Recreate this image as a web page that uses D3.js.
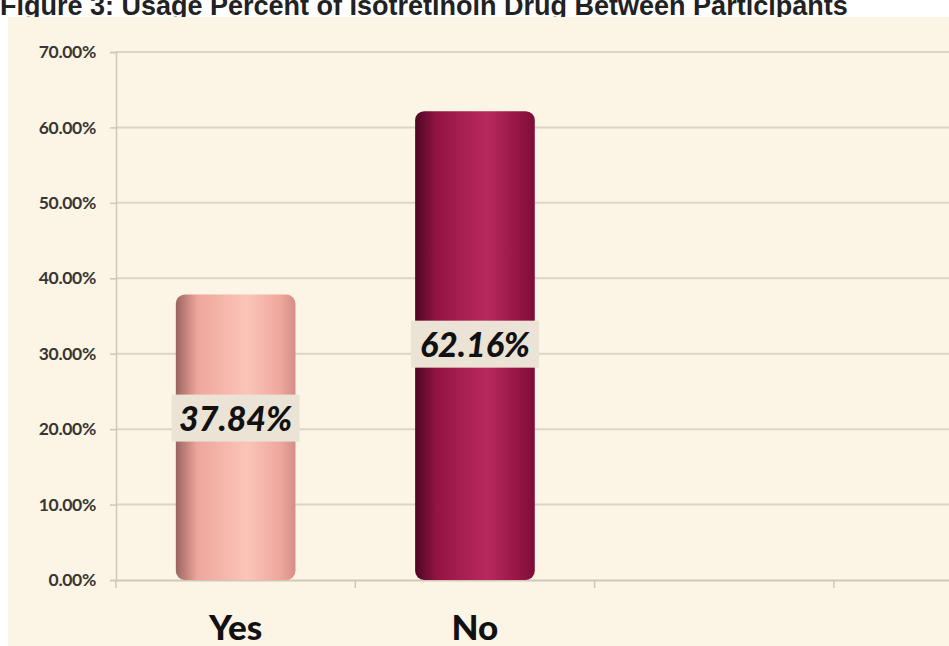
<!DOCTYPE html>
<html>
<head>
<meta charset="utf-8">
<script src="https://cdn.jsdelivr.net/npm/d3@7"></script>
<style>
  html, body { margin: 0; padding: 0; background: #ffffff; overflow: hidden; }
  svg { display: block; }
</style>
</head>
<body>
<div id="chart"></div>
<script>
(function () {
  "use strict";

  // --- data ---
  var categories = ["Yes", "No", "c3", "c4"];   // last two bands are empty in the source
  var shown = ["Yes", "No"];
  var values = [37.84, 62.16];
  var yTicks = [0, 10, 20, 30, 40, 50, 60, 70];
  var titleText = "Figure 3: Usage Percent of Isotretinoin Drug Between Participants";

  var W = 949, H = 646;
  var PAL = {
    panel: "#fcf4e4", grid: "#dcd4c4", axis: "#cfc7b7", tick: "#383633",
    labelBox: "#ebe3d6", ink: "#111111"
  };
  // cylinder shading per bar: [edgeDark, body, highlight, edgeRight]
  var SHADE = [
    ["#9c6560", "#eea69c", "#fcc4b8", "#d48e85"],
    ["#4e0622", "#931443", "#b9295f", "#7c0d36"]
  ];

  var svg = d3.select("#chart").append("svg")
    .attr("width", W).attr("height", H)
    .attr("viewBox", "0 0 " + W + " " + H);

  // title, partly cut off at the top like the source
  svg.append("text")
    .attr("x", 0).attr("y", 15)
    .attr("font-family", "Liberation Sans, Arial, sans-serif")
    .attr("font-weight", "bold").attr("font-size", 27)
    .attr("fill", "#222")
    .text(titleText);

  svg.append("rect").attr("x", 8).attr("y", 17).attr("width", W - 8).attr("height", H - 17)
    .attr("fill", PAL.panel);

  var x0 = 116, y0 = 580;
  var x = d3.scaleBand().domain(categories).range([x0, x0 + 4 * 239.3]).paddingInner(0).paddingOuter(0);
  var y = d3.scaleLinear().domain([0, 70]).range([y0, 52]);

  var g = svg.append("g");

  // gridlines
  g.selectAll("line.grid").data(yTicks.filter(function (d) { return d > 0; }))
    .enter().append("line")
    .attr("x1", x0).attr("x2", W)
    .attr("y1", function (d) { return y(d); }).attr("y2", function (d) { return y(d); })
    .attr("stroke", PAL.grid).attr("stroke-width", 2);

  // y axis
  var ay = g.append("g").attr("transform", "translate(" + x0 + ",0)")
    .call(d3.axisLeft(y).tickValues(yTicks).tickSize(6).tickPadding(14)
      .tickFormat(function (d) { return d.toFixed(2) + "%"; }));
  ay.select(".domain").attr("stroke", PAL.axis).attr("stroke-width", 1.5);
  ay.selectAll(".tick line").attr("stroke", PAL.axis).attr("stroke-width", 1.5);
  ay.selectAll(".tick text")
    .attr("font-family", "Lato, 'Open Sans', sans-serif").attr("font-weight", 700)
    .attr("font-size", 17.5).attr("letter-spacing", -0.3).attr("fill", PAL.tick);

  // x axis
  var ax = g.append("g").attr("transform", "translate(0," + y0 + ")")
    .call(d3.axisBottom(x).tickValues([]).tickSizeOuter(0));
  ax.select(".domain").attr("stroke", PAL.axis).attr("stroke-width", 2);
  g.selectAll("line.xt").data(categories).enter().append("line")
    .attr("x1", function (d) { return x(d); }).attr("x2", function (d) { return x(d); })
    .attr("y1", y0).attr("y2", y0 + 8)
    .attr("stroke", PAL.axis).attr("stroke-width", 1.5);
  g.selectAll("text.xl").data(shown).enter().append("text")
    .attr("x", function (d) { return x(d) + x.bandwidth() / 2; })
    .attr("y", 640)
    .attr("text-anchor", "middle")
    .attr("font-family", "Lato, 'Open Sans', sans-serif").attr("font-weight", 900)
    .attr("font-size", 35).attr("fill", PAL.ink)
    .text(function (d) { return d; });

  // gradients
  var defs = svg.append("defs");
  SHADE.forEach(function (s, i) {
    var lg = defs.append("linearGradient").attr("id", "cyl" + i)
      .attr("x1", "0").attr("x2", "1").attr("y1", "0").attr("y2", "0");
    [[0, s[0]], [0.18, s[1]], [0.6, s[2]], [0.88, s[1]], [1, s[3]]].forEach(function (st) {
      lg.append("stop").attr("offset", st[0]).attr("stop-color", st[1]);
    });
  });

  var bw = x.bandwidth() * 0.5;
  var bars = g.selectAll("g.bar").data(shown).enter().append("g");
  bars.append("rect")
    .attr("x", function (d) { return x(d) + (x.bandwidth() - bw) / 2; })
    .attr("y", function (d, i) { return y(values[i]); })
    .attr("width", bw)
    .attr("height", function (d, i) { return y0 - y(values[i]); })
    .attr("rx", 9).attr("ry", 9)
    .attr("fill", function (d, i) { return "url(#cyl" + i + ")"; });

  // value labels (boxed, bold italic)
  var labelAt = [21.4, 31.2];
  bars.each(function (d, i) {
    var cx = x(d) + x.bandwidth() / 2, cy = y(labelAt[i]);
    var sel = d3.select(this);
    sel.append("rect")
      .attr("x", cx - 64).attr("y", cy - 24).attr("width", 128).attr("height", 47)
      .attr("fill", PAL.labelBox);
    sel.append("text")
      .attr("x", cx).attr("y", cy + 12)
      .attr("text-anchor", "middle")
      .attr("font-family", "Lato, 'Open Sans', sans-serif").attr("font-weight", 900)
      .attr("font-style", "italic").attr("font-size", 34).attr("fill", PAL.ink)
      .text(values[i].toFixed(2) + "%");
  });
})();
</script>
</body>
</html>
